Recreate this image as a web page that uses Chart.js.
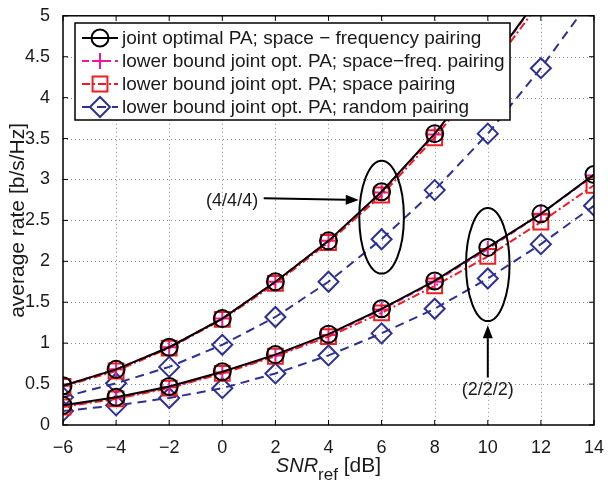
<!DOCTYPE html>
<html>
<head>
<meta charset="utf-8">
<script src="https://cdn.jsdelivr.net/npm/chart.js@4"></script>
<style>
  html, body { margin: 0; padding: 0; background: #fff; }
  #wrap { width: 608px; height: 481px; }
</style>
</head>
<body>
<div id="wrap"><canvas id="chart" width="608" height="481"></canvas></div>
<script>
// SNR_ref grid [dB]
const snr = [-6, -4, -2, 0, 2, 4, 6, 8, 10, 12, 14];
const yTicks = [0, 0.5, 1, 1.5, 2, 2.5, 3, 3.5, 4, 4.5, 5];

// (4/4/4) configuration
const optSF4 = [0.48, 0.68, 0.95, 1.30, 1.75, 2.25, 2.85, 3.56, 4.37, 5.26, 6.25];
const lbSF4 = [0.48, 0.68, 0.95, 1.30, 1.75, 2.25, 2.84, 3.55, 4.36, 5.25, 6.22];
const lbSpace4 = [0.47, 0.66, 0.94, 1.29, 1.73, 2.23, 2.81, 3.51, 4.31, 5.18, 6.15];
const lbRandom4 = [0.34, 0.51, 0.71, 0.98, 1.32, 1.75, 2.27, 2.87, 3.56, 4.36, 5.25];

// (2/2/2) configuration
const optSF2 = [0.24, 0.34, 0.47, 0.65, 0.86, 1.11, 1.42, 1.76, 2.17, 2.58, 3.06];
const lbSF2 = [0.23, 0.33, 0.46, 0.64, 0.85, 1.10, 1.41, 1.75, 2.15, 2.58, 3.05];
const lbSpace2 = [0.22, 0.32, 0.45, 0.63, 0.84, 1.08, 1.37, 1.70, 2.06, 2.48, 2.93];
const lbRandom2 = [0.17, 0.24, 0.33, 0.45, 0.63, 0.85, 1.12, 1.42, 1.79, 2.21, 2.68];

const legendLabels = [
    'joint optimal PA; space \u2212 frequency pairing',
    'lower bound joint opt. PA; space\u2212freq. pairing',
    'lower bound joint opt. PA; space pairing',
    'lower bound joint opt. PA; random pairing'
];

const FONT = '"Liberation Sans", Arial, Helvetica, sans-serif';
const TEXT = '#1a1a1a';

// line + marker styles for the four series
const styles = [
    { color: '#000000', dash: [], point: 'circle', radius: 8.5 },
    { color: '#f0189a', dash: [7, 4], point: 'cross', radius: 8 },
    { color: '#ee1c24', dash: [8, 3, 2, 3], point: 'rect', radius: 10.5 },
    { color: '#2e3192', dash: [9, 6], point: 'rectRot', radius: 10 }
];

function makeSet(values, s) {
    return {
        data: snr.map((x, i) => ({ x: x, y: values[i] })),
        borderColor: s.color,
        backgroundColor: 'rgba(0,0,0,0)',
        borderWidth: 2,
        borderDash: s.dash,
        pointStyle: s.point,
        pointRadius: s.radius,
        pointBorderWidth: 2,
        pointBorderColor: s.color,
        pointBackgroundColor: 'rgba(0,0,0,0)',
        tension: 0,
        fill: false
    };
}

const datasets = [
    makeSet(optSF4, styles[0]),
    makeSet(optSF2, styles[0]),
    makeSet(lbSpace4, styles[2]),
    makeSet(lbSpace2, styles[2]),
    makeSet(lbSF4, styles[1]),
    makeSet(lbSF2, styles[1]),
    makeSet(lbRandom4, styles[3]),
    makeSet(lbRandom2, styles[3])
];

function drawArrow(ctx, x0, y0, x1, y1) {
    const ang = Math.atan2(y1 - y0, x1 - x0);
    const len = 13, half = 5;
    ctx.beginPath();
    ctx.moveTo(x0, y0);
    ctx.lineTo(x1 - len * Math.cos(ang), y1 - len * Math.sin(ang));
    ctx.stroke();
    ctx.beginPath();
    ctx.moveTo(x1, y1);
    ctx.lineTo(x1 - len * Math.cos(ang) + half * Math.sin(ang), y1 - len * Math.sin(ang) - half * Math.cos(ang));
    ctx.lineTo(x1 - len * Math.cos(ang) - half * Math.sin(ang), y1 - len * Math.sin(ang) + half * Math.cos(ang));
    ctx.closePath();
    ctx.fill();
}

// dotted grid under the data
const grid = {
    id: 'dotGrid',
    beforeDatasetsDraw(chart) {
        const ctx = chart.ctx;
        const a = chart.chartArea;
        const xs = chart.scales.x, ys = chart.scales.y;
        ctx.save();
        ctx.strokeStyle = '#8c8c8c';
        ctx.lineWidth = 1;
        ctx.setLineDash([1, 3]);
        ctx.beginPath();
        snr.slice(1, -1).forEach(v => {
            const px = Math.round(xs.getPixelForValue(v)) + 0.5;
            ctx.moveTo(px, a.top); ctx.lineTo(px, a.bottom);
        });
        yTicks.slice(1, -1).forEach(v => {
            const py = Math.round(ys.getPixelForValue(v)) + 0.5;
            ctx.moveTo(a.left, py); ctx.lineTo(a.right, py);
        });
        ctx.stroke();
        ctx.restore();
    }
};

const decor = {
    id: 'decor',
    afterDraw(chart) {
        const ctx = chart.ctx;
        const a = chart.chartArea;
        const xs = chart.scales.x, ys = chart.scales.y;
        ctx.save();

        // box + inward ticks
        ctx.strokeStyle = '#000';
        ctx.lineWidth = 1.5;
        ctx.setLineDash([]);
        ctx.strokeRect(a.left, a.top, a.right - a.left, a.bottom - a.top);
        ctx.lineWidth = 1;
        ctx.beginPath();
        snr.forEach(v => {
            const px = xs.getPixelForValue(v);
            ctx.moveTo(px, a.bottom); ctx.lineTo(px, a.bottom - 5);
            ctx.moveTo(px, a.top); ctx.lineTo(px, a.top + 5);
        });
        yTicks.forEach(v => {
            const py = ys.getPixelForValue(v);
            ctx.moveTo(a.left, py); ctx.lineTo(a.left + 5, py);
            ctx.moveTo(a.right, py); ctx.lineTo(a.right - 5, py);
        });
        ctx.stroke();

        // annotations
        ctx.lineWidth = 2;
        ctx.strokeStyle = '#000';
        ctx.fillStyle = '#000';
        const ell = [[6, 2.54, 0.84, 0.69], [10, 1.96, 0.82, 0.69]];
        ell.forEach(e => {
            const cx = xs.getPixelForValue(e[0]), cy = ys.getPixelForValue(e[1]);
            const rx = xs.getPixelForValue(e[0] + e[2]) - cx;
            const ry = cy - ys.getPixelForValue(e[1] + e[3]);
            ctx.beginPath();
            ctx.ellipse(cx, cy, rx, ry, 0, 0, Math.PI * 2);
            ctx.stroke();
        });
        drawArrow(ctx, xs.getPixelForValue(1.56), ys.getPixelForValue(2.77),
            xs.getPixelForValue(5.14), ys.getPixelForValue(2.75));
        drawArrow(ctx, xs.getPixelForValue(10), ys.getPixelForValue(0.58),
            xs.getPixelForValue(10), ys.getPixelForValue(1.22));
        ctx.fillStyle = TEXT;
        ctx.font = '18px ' + FONT;
        ctx.textAlign = 'center';
        ctx.textBaseline = 'middle';
        ctx.fillText('(4/4/4)', xs.getPixelForValue(0.37), ys.getPixelForValue(2.74));
        ctx.fillText('(2/2/2)', xs.getPixelForValue(10), ys.getPixelForValue(0.43));

        // legend
        const lx = 75, ly = 23, lw = 435, lh = 97;
        ctx.fillStyle = '#fff';
        ctx.fillRect(lx, ly, lw, lh);
        ctx.lineWidth = 1.5;
        ctx.strokeStyle = '#000';
        ctx.strokeRect(lx, ly, lw, lh);
        legendLabels.forEach((lab, i) => {
            const s = styles[i];
            const yy = 38 + i * 23;
            ctx.strokeStyle = s.color;
            ctx.lineWidth = 2;
            ctx.setLineDash(s.dash);
            ctx.beginPath();
            ctx.moveTo(82, yy); ctx.lineTo(118, yy);
            ctx.stroke();
            ctx.setLineDash([]);
            ctx.fillStyle = 'rgba(0,0,0,0)';
            Chart.helpers.drawPoint(ctx, { pointStyle: s.point, radius: s.radius, borderWidth: 2, rotation: 0 }, 100, yy);
            ctx.fillStyle = TEXT;
            ctx.font = '19px ' + FONT;
            ctx.textAlign = 'left';
            ctx.fillText(lab, 122, yy + 1);
        });

        // axis titles
        ctx.fillStyle = TEXT;
        ctx.save();
        ctx.translate(18, (a.top + a.bottom) / 2);
        ctx.rotate(-Math.PI / 2);
        ctx.textAlign = 'center';
        ctx.font = '21px ' + FONT;
        ctx.fillText('average rate [b/s/Hz]', 0, 0);
        ctx.restore();

        ctx.textAlign = 'left';
        ctx.textBaseline = 'alphabetic';
        const p1 = 'SNR', p2 = 'ref', p3 = ' [dB]';
        ctx.font = 'italic 20px ' + FONT;
        const w1 = ctx.measureText(p1).width;
        ctx.font = '17px ' + FONT;
        const w2 = ctx.measureText(p2).width;
        ctx.font = '21px ' + FONT;
        const w3 = ctx.measureText(p3).width;
        let x0 = (a.left + a.right) / 2 - (w1 + w2 + w3) / 2;
        const base = 472;
        ctx.font = 'italic 20px ' + FONT;
        ctx.fillText(p1, x0, base);
        ctx.font = '17px ' + FONT;
        ctx.fillText(p2, x0 + w1, base + 8);
        ctx.font = '21px ' + FONT;
        ctx.fillText(p3, x0 + w1 + w2, base);
        ctx.restore();
    }
};

new Chart(document.getElementById('chart'), {
    type: 'line',
    data: { datasets: datasets },
    options: {
        responsive: false,
        animation: false,
        layout: { padding: { top: 14, right: 8, left: 0, bottom: 0 } },
        plugins: { legend: { display: false }, tooltip: { enabled: false } },
        scales: {
            x: {
                type: 'linear',
                min: -6, max: 14,
                afterFit: s => { s.height = 56; },
                afterBuildTicks: s => { s.ticks = snr.map(v => ({ value: v })); },
                ticks: {
                    color: TEXT,
                    font: { family: FONT, size: 18 },
                    padding: 4,
                    maxRotation: 0,
                    callback: v => (v < 0 ? '\u2212' + Math.abs(v) : String(v))
                },
                grid: { display: false },
                border: { display: false }
            },
            y: {
                type: 'linear',
                min: 0, max: 5,
                afterFit: s => { s.width = 63; },
                afterBuildTicks: s => { s.ticks = yTicks.map(v => ({ value: v })); },
                ticks: {
                    color: TEXT,
                    font: { family: FONT, size: 18 },
                    padding: 5,
                    callback: v => String(v)
                },
                grid: { display: false },
                border: { display: false }
            }
        }
    },
    plugins: [grid, decor]
});
</script>
</body>
</html>
